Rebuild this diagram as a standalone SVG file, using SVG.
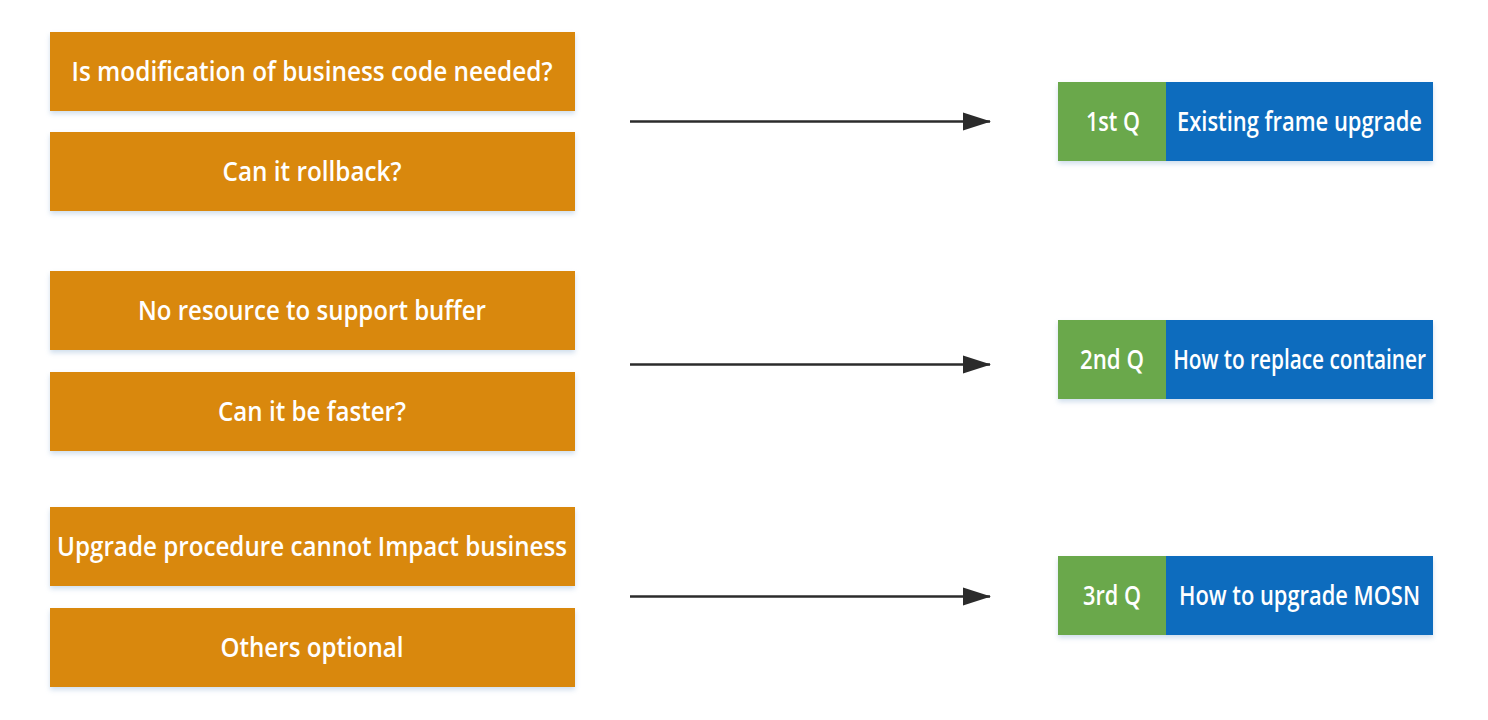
<svg xmlns="http://www.w3.org/2000/svg" width="1488" height="720" viewBox="0 0 1488 720">
<defs>
<filter id="sh" x="-5%" y="-20%" width="110%" height="150%">
<feDropShadow dx="0" dy="3" stdDeviation="2.5" flood-color="#9ab8d8" flood-opacity="0.45"/>
</filter>
<marker id="ah" markerWidth="28" markerHeight="20" refX="27" refY="10" orient="auto" markerUnits="userSpaceOnUse">
<path d="M0,1 L28,10 L0,19 Z" fill="#2b2b2b"/>
</marker>
<style>
.o{fill:#D98810;filter:url(#sh)}
.g{fill:#6AA84B}
.b{fill:#0B6CBE}
.t{font-family:"Open Sans","Noto Sans",sans-serif;font-size:27px;font-weight:600;fill:#ffffff;text-anchor:middle}
.c{stroke:#2b2b2b;stroke-width:2.5;fill:none;marker-end:url(#ah)}
</style>
</defs>
<rect width="1488" height="720" fill="#ffffff"/>
<g id="q1a"><rect class="o" x="50" y="32" width="525" height="79"/><text class="t" x="312" y="81" textLength="481" lengthAdjust="spacingAndGlyphs">Is modification of business code needed?</text></g>
<g id="q1b"><rect class="o" x="50" y="132" width="525" height="79"/><text class="t" x="312" y="181" textLength="179" lengthAdjust="spacingAndGlyphs">Can it rollback?</text></g>
<g id="q2a"><rect class="o" x="50" y="271" width="525" height="79"/><text class="t" x="312" y="320" textLength="348" lengthAdjust="spacingAndGlyphs">No resource to support buffer</text></g>
<g id="q2b"><rect class="o" x="50" y="372" width="525" height="79"/><text class="t" x="312" y="421" textLength="188" lengthAdjust="spacingAndGlyphs">Can it be faster?</text></g>
<g id="q3a"><rect class="o" x="50" y="507" width="525" height="79"/><text class="t" x="312" y="556" textLength="510" lengthAdjust="spacingAndGlyphs">Upgrade procedure cannot Impact business</text></g>
<g id="q3b"><rect class="o" x="50" y="608" width="525" height="79"/><text class="t" x="312" y="657" textLength="183" lengthAdjust="spacingAndGlyphs">Others optional</text></g>
<g id="r1"><g filter="url(#sh)"><rect class="g" x="1058" y="82" width="109" height="79"/><rect class="b" x="1166" y="82" width="267" height="79"/></g><text class="t" x="1113" y="131" textLength="54" lengthAdjust="spacingAndGlyphs">1st Q</text><text class="t" x="1299.5" y="131" textLength="245" lengthAdjust="spacingAndGlyphs">Existing frame upgrade</text></g>
<g id="r2"><g filter="url(#sh)"><rect class="g" x="1058" y="320" width="109" height="79"/><rect class="b" x="1166" y="320" width="267" height="79"/></g><text class="t" x="1112" y="369" textLength="64" lengthAdjust="spacingAndGlyphs">2nd Q</text><text class="t" transform="translate(1299.5,369) scale(0.77,1)" x="0" y="0">How to replace container</text></g>
<g id="r3"><g filter="url(#sh)"><rect class="g" x="1058" y="556" width="109" height="79"/><rect class="b" x="1166" y="556" width="267" height="79"/></g><text class="t" x="1112" y="605" textLength="58" lengthAdjust="spacingAndGlyphs">3rd Q</text><text class="t" x="1299.5" y="605" textLength="241" lengthAdjust="spacingAndGlyphs">How to upgrade MOSN</text></g>
<g id="connectors">
<line class="c" x1="630" y1="121.5" x2="990" y2="121.5"/>
<line class="c" x1="630" y1="364.5" x2="990" y2="364.5"/>
<line class="c" x1="630" y1="596.5" x2="990" y2="596.5"/>
</g>
</svg>
